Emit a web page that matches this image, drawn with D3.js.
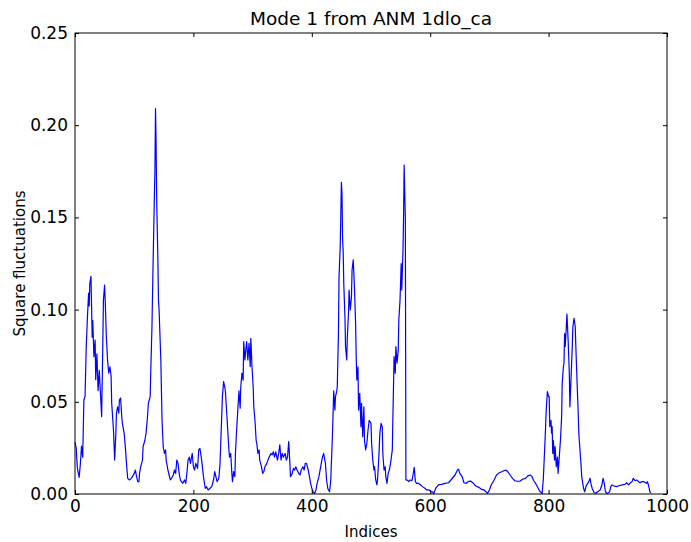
<!DOCTYPE html>
<html>
<head>
<meta charset="utf-8">
<script src="https://cdn.jsdelivr.net/npm/d3@7.9.0/dist/d3.min.js"></script>
<style>
  body { margin: 0; background: #fff; }
  text { font-family: "DejaVu Sans", sans-serif; }
</style>
</head>
<body>
<svg id="chart"></svg>
<script>
// square fluctuations, one value per residue index
const residueIdx = [0,2,4,7,9,11,13,15,17,19,21,23,24,25,27,28,29,30,32,34,35,37,39,41,43,45,47,48,50,51,53,55,57,59,61,62,65,67,69,70,72,74,75,77,79,80,83,85,87,89,92,95,97,100,102,104,106,108,109,111,114,115,118,120,122,124,127,128,130,132,134,135,136,137,138,140,141,142,145,147,149,151,153,154,157,159,161,163,166,168,170,172,174,176,178,180,182,185,187,189,191,193,195,196,198,200,202,204,207,209,211,214,217,220,222,225,228,231,234,236,238,240,243,245,247,249,251,253,254,256,258,260,261,263,265,266,268,270,271,273,275,277,279,280,282,284,285,287,289,290,292,294,296,297,299,301,302,304,306,307,309,311,312,315,317,319,321,324,326,328,331,333,335,337,339,342,344,346,348,350,352,355,357,359,361,363,364,367,369,371,373,375,378,380,382,385,387,389,391,394,396,398,400,402,405,407,409,412,414,416,418,420,423,425,427,430,432,435,437,439,440,442,443,445,446,448,450,451,452,453,454,456,457,459,460,462,463,465,467,468,470,472,474,475,476,478,479,481,483,484,486,488,489,491,493,495,497,500,501,503,505,506,508,510,511,513,515,517,519,520,522,524,525,527,529,531,533,536,537,539,541,542,544,546,547,549,551,552,554,555,556,558,559,561,564,566,569,571,573,575,577,580,584,587,591,594,598,601,604,606,610,614,619,625,631,636,642,646,648,650,654,657,661,664,668,673,677,682,687,691,694,697,700,703,708,712,717,721,725,728,731,735,739,743,747,752,756,761,765,769,772,775,779,782,785,789,791,794,796,798,800,801,802,804,805,806,807,808,810,811,813,815,816,818,820,822,823,825,826,827,828,829,831,833,835,836,838,840,841,843,845,846,848,850,851,853,855,856,859,861,863,866,868,870,872,874,877,880,883,887,890,892,894,896,899,903,905,907,911,915,919,924,929,932,935,938,941,943,946,949,952,954,958,961,965,967,970,971,973];
const sqFluct = [0.028,0.025,0.014,0.009,0.016,0.026,0.020,0.051,0.053,0.080,0.096,0.109,0.102,0.114,0.118,0.102,0.085,0.094,0.0745,0.0835,0.062,0.076,0.056,0.067,0.0546,0.042,0.0817,0.105,0.1133,0.105,0.085,0.0727,0.0655,0.069,0.0636,0.0492,0.0347,0.0184,0.033,0.0438,0.0473,0.0438,0.051,0.052,0.042,0.0383,0.033,0.0257,0.0166,0.0085,0.0076,0.0085,0.0094,0.0112,0.013,0.0094,0.0067,0.0067,0.0112,0.0148,0.0184,0.0257,0.029,0.033,0.040,0.0492,0.0528,0.067,0.0907,0.127,0.16,0.175,0.209,0.19,0.16,0.127,0.105,0.10,0.0727,0.040,0.0257,0.022,0.0239,0.0184,0.013,0.0103,0.0076,0.0085,0.0103,0.013,0.0112,0.0184,0.0166,0.0112,0.0076,0.0067,0.0058,0.0076,0.0058,0.0112,0.0184,0.020,0.0166,0.0184,0.022,0.0148,0.013,0.0166,0.0139,0.0239,0.0248,0.0184,0.0094,0.0031,0.004,0.0022,0.0031,0.004,0.0076,0.0121,0.0094,0.0067,0.0085,0.0166,0.0347,0.0528,0.061,0.058,0.056,0.0455,0.0347,0.0239,0.020,0.022,0.0112,0.0067,0.0121,0.0094,0.022,0.0347,0.0455,0.056,0.0465,0.058,0.0655,0.0618,0.0826,0.0727,0.080,0.0826,0.0727,0.0817,0.069,0.0844,0.069,0.058,0.0473,0.040,0.029,0.0275,0.022,0.0239,0.0184,0.0148,0.0112,0.0121,0.0148,0.0166,0.0184,0.020,0.022,0.0212,0.0229,0.020,0.0229,0.0184,0.022,0.0266,0.0184,0.022,0.020,0.022,0.0184,0.020,0.0284,0.0166,0.0094,0.0112,0.0139,0.013,0.0148,0.013,0.0112,0.0103,0.013,0.0148,0.013,0.0166,0.0166,0.013,0.0094,0.0058,0.0031,0.0012,0.0004,0.0022,0.0058,0.0094,0.013,0.0166,0.020,0.022,0.0166,0.0076,0.003,0.0012,0.0076,0.033,0.056,0.0455,0.0528,0.0555,0.058,0.087,0.118,0.134,0.169,0.163,0.138,0.132,0.114,0.096,0.080,0.0727,0.085,0.098,0.1106,0.0998,0.107,0.1215,0.127,0.1124,0.0926,0.0745,0.0618,0.069,0.0455,0.0546,0.0365,0.0492,0.0311,0.0473,0.029,0.0239,0.0275,0.0347,0.040,0.0383,0.0275,0.0184,0.013,0.0148,0.0076,0.0049,0.0076,0.0184,0.033,0.0383,0.0365,0.022,0.013,0.0148,0.0094,0.0058,0.0112,0.013,0.0166,0.0239,0.042,0.0745,0.0655,0.080,0.071,0.078,0.0944,0.105,0.125,0.1106,0.132,0.150,0.1784,0.150,0.0076,0.0076,0.0067,0.0076,0.0072,0.0103,0.0145,0.0067,0.0058,0.0058,0.0049,0.004,0.0031,0.0022,0.0022,0.0012,0.0012,0.0002,0.0035,0.0049,0.0052,0.0058,0.0061,0.008,0.0103,0.013,0.0134,0.0112,0.0094,0.0061,0.0058,0.0067,0.007,0.0058,0.0043,0.0036,0.0025,0.0022,0.0012,0.0004,0.0022,0.0049,0.0076,0.0103,0.0116,0.0121,0.0127,0.013,0.0121,0.0103,0.0085,0.0072,0.0069,0.007,0.008,0.0085,0.0098,0.0103,0.0094,0.0072,0.0052,0.0034,0.0015,0.0002,0.0076,0.029,0.0455,0.0555,0.0528,0.0528,0.0365,0.040,0.033,0.0365,0.022,0.029,0.0184,0.0257,0.0148,0.020,0.0112,0.020,0.029,0.042,0.060,0.069,0.0709,0.087,0.080,0.085,0.0976,0.0835,0.0655,0.0473,0.0636,0.080,0.0907,0.0953,0.0907,0.080,0.0618,0.0438,0.033,0.0239,0.0148,0.0094,0.0031,0.0012,0.004,0.0058,0.0067,0.0085,0.0049,0.0027,0.0007,0.0004,0.0012,0.0022,0.0049,0.0085,0.0058,0.0012,0.0002,0.0012,0.004,0.0049,0.0043,0.004,0.0045,0.0049,0.0052,0.0061,0.0049,0.0061,0.0067,0.0085,0.0072,0.0076,0.0067,0.0061,0.0067,0.0067,0.0058,0.0067,0.0031,0.0012,0.0007];

const xTicks = [0, 200, 400, 600, 800, 1000];
const yTicks = [0, 0.05, 0.10, 0.15, 0.20, 0.25];
const titleText = "Mode 1 from ANM 1dlo_ca";
const xLabel = "Indices";
const yLabel = "Square fluctuations";

const W = 691, H = 542;
const margin = {top: 33, right: 24, bottom: 48, left: 75};
const width = W - margin.left - margin.right;
const height = H - margin.top - margin.bottom;

const svg = d3.select("#chart").attr("width", W).attr("height", H);
const g = svg.append("g").attr("transform", `translate(${margin.left},${margin.top})`);

const x = d3.scaleLinear().domain([0, 1000]).range([0, width]);
const y = d3.scaleLinear().domain([0, 0.25]).range([height, 0]);

const data = residueIdx.map((d, i) => ({idx: d, val: sqFluct[i]}));

const line = d3.line().x(d => x(d.idx)).y(d => y(d.val));

g.append("path")
  .datum(data)
  .attr("fill", "none")
  .attr("stroke", "#0000ff")
  .attr("stroke-width", 1.2)
  .attr("stroke-linejoin", "round")
  .attr("d", line);

// ticks point inward, like the classic matplotlib style
const tickFont = 17;
const xAxis = g.append("g").attr("transform", `translate(0,${height})`)
  .call(d3.axisBottom(x).tickValues(xTicks).tickFormat(d3.format("d"))
    .tickSizeInner(-4).tickSizeOuter(0).tickPadding(6));
const yAxis = g.append("g")
  .call(d3.axisLeft(y).tickValues(yTicks).tickFormat(d3.format(".2f"))
    .tickSizeInner(-4).tickSizeOuter(0).tickPadding(7));
const xTop = g.append("g")
  .call(d3.axisTop(x).tickValues(xTicks).tickFormat("").tickSizeInner(-4).tickSizeOuter(0));
const yRight = g.append("g").attr("transform", `translate(${width},0)`)
  .call(d3.axisRight(y).tickValues(yTicks).tickFormat("").tickSizeInner(-4).tickSizeOuter(0));

[xAxis, yAxis, xTop, yRight].forEach(a => {
  a.select(".domain").remove();
  a.selectAll("line").attr("stroke", "#000");
  a.selectAll("text").attr("fill", "#000")
    .style("font-size", tickFont + "px")
    .style("font-family", "'DejaVu Sans', sans-serif");
});

g.append("rect")
  .attr("width", width).attr("height", height)
  .attr("fill", "none").attr("stroke", "#000").attr("stroke-width", 1);

svg.append("text")
  .attr("x", margin.left + width / 2).attr("y", 25)
  .attr("text-anchor", "middle")
  .style("font-size", "18.5px")
  .text(titleText);

svg.append("text")
  .attr("x", margin.left + width / 2).attr("y", 537)
  .attr("text-anchor", "middle")
  .style("font-size", "15px")
  .text(xLabel);

svg.append("text")
  .attr("transform", `translate(25,${margin.top + height / 2}) rotate(-90)`)
  .attr("text-anchor", "middle")
  .style("font-size", "15px")
  .text(yLabel);
</script>
</body>
</html>
